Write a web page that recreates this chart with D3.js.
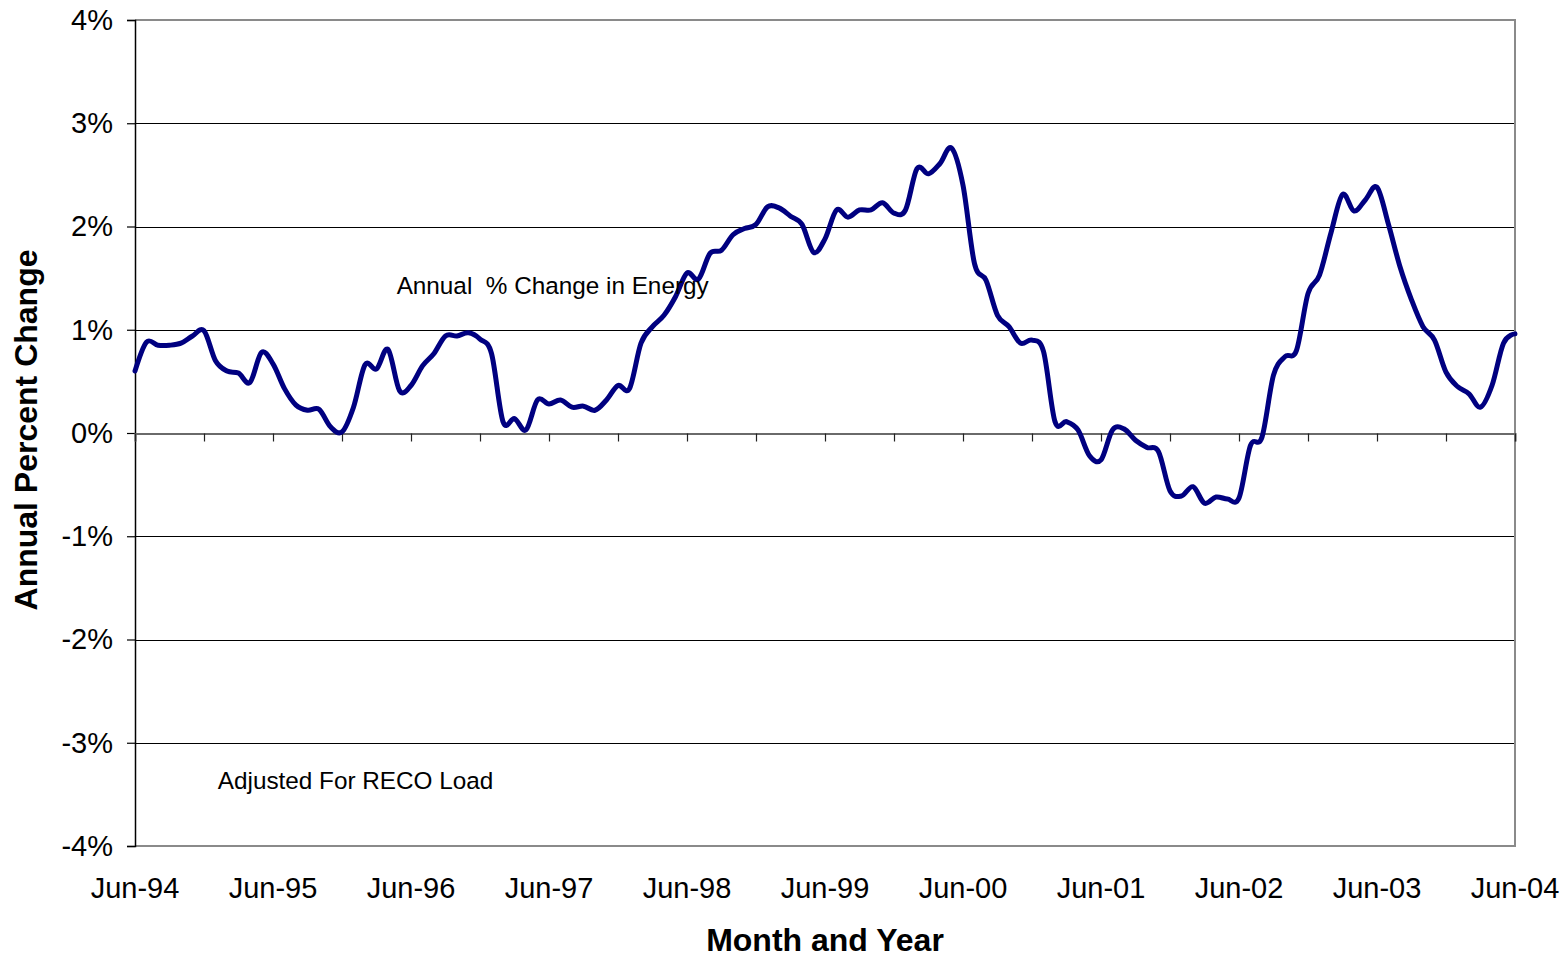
<!DOCTYPE html>
<html>
<head>
<meta charset="utf-8">
<script src="https://cdn.jsdelivr.net/npm/d3@7"></script>
<style>
  html, body { margin: 0; padding: 0; background: #fff; }
  svg { display: block; font-family: "Liberation Sans", Arial, sans-serif; }
</style>
</head>
<body>
<svg id="chart" width="1566" height="959"></svg>
<script>
// Monthly annual % change in energy, Jun-94 .. Jun-04 (121 months)
const values = [
  0.60, 0.88, 0.85, 0.85, 0.87, 0.94, 0.99, 0.70, 0.60, 0.58, 0.49, 0.78,
  0.67, 0.43, 0.27, 0.22, 0.23, 0.06, 0.01, 0.25, 0.66, 0.62, 0.81, 0.41,
  0.46, 0.65, 0.77, 0.94, 0.94, 0.97, 0.91, 0.77, 0.11, 0.14, 0.03, 0.32,
  0.28, 0.32, 0.25, 0.26, 0.22, 0.32, 0.46, 0.43, 0.87, 1.03, 1.14, 1.32,
  1.55, 1.49, 1.74, 1.77, 1.92, 1.98, 2.02, 2.19, 2.18, 2.10, 2.02, 1.75,
  1.88, 2.16, 2.09, 2.16, 2.16, 2.23, 2.13, 2.16, 2.56, 2.51, 2.61, 2.76,
  2.40, 1.64, 1.48, 1.14, 1.03, 0.87, 0.90, 0.79, 0.11, 0.11, 0.03, -0.22,
  -0.26, 0.03, 0.04, -0.07, -0.14, -0.18, -0.56, -0.61, -0.52, -0.68, -0.62, -0.64,
  -0.63, -0.12, -0.04, 0.56, 0.74, 0.80, 1.35, 1.53, 1.94, 2.31, 2.15, 2.26,
  2.38, 2.02, 1.61, 1.29, 1.03, 0.90, 0.59, 0.45, 0.38, 0.25, 0.46, 0.87,
  0.96
];

// Category labels, one per June
const xTickLabels = ["Jun-94", "Jun-95", "Jun-96", "Jun-97", "Jun-98", "Jun-99",
                     "Jun-00", "Jun-01", "Jun-02", "Jun-03", "Jun-04"];
const yTicks = [4, 3, 2, 1, 0, -1, -2, -3, -4];

const annotations = [
  { text: "Annual  % Change in Energy", month: 22.75, value: 1.35 },
  { text: "Adjusted For RECO Load", month: 7.2, value: -3.45 }
];

const svg = d3.select("#chart");
const plotLeft = 135, plotRight = 1515, plotTop = 20, plotBottom = 846;

const x = d3.scaleLinear().domain([0, values.length - 1]).range([plotLeft, plotRight]);
const y = d3.scaleLinear().domain([-4, 4]).range([plotBottom, plotTop]);

// Horizontal gridlines
svg.append("g")
  .selectAll("line")
  .data(yTicks.filter(d => d !== 4 && d !== -4 && d !== 0))
  .join("line")
  .attr("x1", plotLeft).attr("x2", plotRight)
  .attr("y1", d => Math.round(y(d)) + 0.5).attr("y2", d => Math.round(y(d)) + 0.5)
  .attr("stroke", "#000").attr("stroke-width", 1.2);

// Plot frame: top, right, bottom in grey
svg.append("path")
  .attr("d", `M${plotLeft},${plotTop}H${plotRight}V${plotBottom}H${plotLeft}`)
  .attr("fill", "none").attr("stroke", "#8a8a8a").attr("stroke-width", 2);

// Value axis (left)
const yAxis = d3.axisLeft(y).tickValues(yTicks).tickSize(8).tickPadding(14)
  .tickFormat(d => d + "%");
const gy = svg.append("g").attr("transform", `translate(${plotLeft},0)`).call(yAxis);
gy.select(".domain").attr("stroke", "#000").attr("stroke-width", 1.5);
gy.selectAll(".tick line").attr("stroke", "#000").attr("stroke-width", 1.2);
gy.selectAll(".tick text")
  .attr("font-size", 29).attr("fill", "#000")
  .attr("font-family", "Liberation Sans, Arial, sans-serif");

// Category axis along the 0% line, ticks every six months
const xAxis = d3.axisBottom(x).tickValues(d3.range(0, values.length, 6))
  .tickSize(8).tickFormat("");
const gx = svg.append("g").attr("transform", `translate(0,${Math.round(y(0)) + 0.5})`).call(xAxis);
gx.select(".domain").attr("stroke", "#6a6a6a").attr("stroke-width", 2);
gx.selectAll(".tick line").attr("stroke", "#222").attr("stroke-width", 1.2);

// Year labels below the plot
svg.append("g")
  .selectAll("text")
  .data(xTickLabels)
  .join("text")
  .attr("x", (d, i) => x(i * 12))
  .attr("y", 898)
  .attr("text-anchor", "middle")
  .attr("font-size", 29)
  .attr("fill", "#000")
  .text(d => d);

// Series line (smoothed)
const line = d3.line()
  .x((d, i) => x(i))
  .y(d => y(d))
  .curve(d3.curveCatmullRom.alpha(0));

svg.append("path")
  .datum(values)
  .attr("d", line)
  .attr("fill", "none")
  .attr("stroke", "#000080")
  .attr("stroke-width", 5)
  .attr("stroke-linejoin", "round")
  .attr("stroke-linecap", "round");

// Text annotations inside the plot
svg.append("g")
  .selectAll("text")
  .data(annotations)
  .join("text")
  .attr("x", d => x(d.month))
  .attr("y", d => y(d.value))
  .attr("font-size", 24.3)
  .attr("fill", "#000")
  .style("white-space", "pre")
  .text(d => d.text);

// Axis titles
svg.append("text")
  .attr("x", 825).attr("y", 951)
  .attr("text-anchor", "middle")
  .attr("font-size", 32).attr("font-weight", "bold")
  .text("Month and Year");

svg.append("text")
  .attr("transform", "translate(37,430) rotate(-90)")
  .attr("text-anchor", "middle")
  .attr("font-size", 32).attr("font-weight", "bold")
  .text("Annual Percent Change");
</script>
</body>
</html>
